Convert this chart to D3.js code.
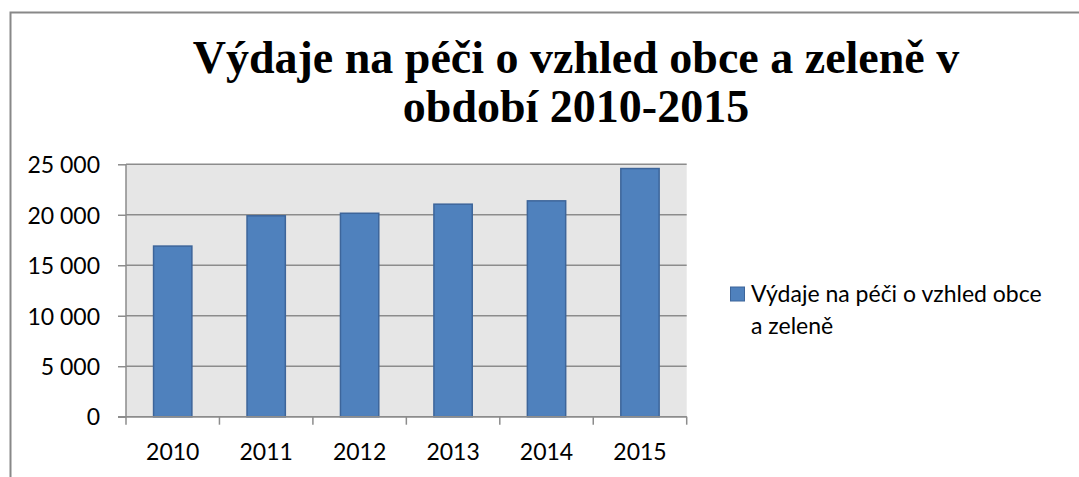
<!DOCTYPE html>
<html><head><meta charset="utf-8">
<script src="https://cdn.jsdelivr.net/npm/d3@7"></script>
<style>html,body{margin:0;padding:0;background:#fff;}</style>
</head><body>
<svg id="c" width="1079" height="477"></svg>
<script>
const categories = ["2010","2011","2012","2013","2014","2015"];
const values = [16900, 19900, 20150, 21050, 21380, 24580];
const yTicks = [0, 5000, 10000, 15000, 20000, 25000];
const seriesName = "Výdaje na péči o vzhled obce a zeleně";
const titleLines = ["Výdaje na péči o vzhled obce a zeleně v", "období 2010-2015"];
const legendLines = ["Výdaje na péči o vzhled obce", "a zeleně"];

const svg = d3.select("#c");
const W = 1079, H = 477;
const plot = {left: 126, right: 686.7, top: 164.3, bottom: 416.7};
const gridColor = "#8c8c8c";
const font = "Lato, 'Open Sans', sans-serif";
const fs = 23;

// outer border (cropped at right and bottom)
svg.append("rect").attr("x", 10.5).attr("y", 12.5).attr("width", W + 20).attr("height", H + 20)
  .attr("fill", "#fff").attr("stroke", "#888").attr("stroke-width", 2);

// title
const title = svg.append("text").attr("text-anchor", "middle")
  .attr("font-family", "'Liberation Serif', 'Times New Roman', serif")
  .attr("font-weight", "bold").attr("font-size", 46).attr("fill", "#000");
titleLines.forEach((t, i) => title.append("tspan").attr("x", 576).attr("y", 73 + i * 49).text(t));

const x = d3.scaleBand().domain(categories).range([plot.left, plot.right]).padding(0);
const y = d3.scaleLinear().domain([0, 25000]).range([plot.bottom, plot.top]);

// plot background
svg.append("rect").attr("x", plot.left).attr("y", plot.top)
  .attr("width", plot.right - plot.left).attr("height", plot.bottom - plot.top)
  .attr("fill", "#e6e6e6");

// gridlines
svg.append("g").selectAll("line").data(yTicks).join("line")
  .attr("x1", plot.left).attr("x2", plot.right)
  .attr("y1", d => y(d)).attr("y2", d => y(d))
  .attr("stroke", gridColor).attr("stroke-width", 1.5);

// bars
const bw = x.bandwidth() * 0.41;
svg.append("g").selectAll("rect").data(values).join("rect")
  .attr("x", (d, i) => x(categories[i]) + (x.bandwidth() - bw) / 2)
  .attr("y", d => y(d))
  .attr("width", bw)
  .attr("height", d => y(0) - y(d))
  .attr("fill", "#4f81bd").attr("stroke", "#3d659a").attr("stroke-width", 1.5);

// y axis
const yAxis = d3.axisLeft(y).tickValues(yTicks).tickSize(8).tickPadding(18)
  .tickFormat(d => d3.format(",")(d).replace(/,/g, " "));
const gy = svg.append("g").attr("transform", `translate(${plot.left},0)`).call(yAxis);
gy.select(".domain").attr("stroke", gridColor).attr("stroke-width", 1.5).attr("d", `M-8,${plot.bottom}H0V${plot.top}`);
gy.selectAll(".tick line").attr("stroke", gridColor).attr("stroke-width", 1.5);
gy.selectAll(".tick text").attr("font-family", font).attr("font-size", fs).attr("fill", "#000")
  .attr("dy", "0.36em");

// x axis with boundary ticks
const xAxis = d3.axisBottom(x).tickSize(0).tickPadding(27);
const gx = svg.append("g").attr("transform", `translate(0,${plot.bottom})`).call(xAxis);
gx.select(".domain").attr("stroke", gridColor).attr("stroke-width", 1.5).attr("d", `M${plot.left},0H${plot.right}`);
gx.selectAll(".tick text").attr("font-family", font).attr("font-size", fs).attr("fill", "#000");
const bounds = categories.map(c => x(c)).concat([plot.right]);
gx.append("g").selectAll("line").data(bounds).join("line")
  .attr("x1", d => d).attr("x2", d => d).attr("y1", 0).attr("y2", 8)
  .attr("stroke", gridColor).attr("stroke-width", 1.5);

// legend
const lg = svg.append("g");
lg.append("rect").attr("x", 730.5).attr("y", 287).attr("width", 14).attr("height", 14)
  .attr("fill", "#4f81bd").attr("stroke", "#3d659a").attr("stroke-width", 1);
const lt = lg.append("text").attr("font-family", font).attr("font-size", fs).attr("fill", "#000");
legendLines.forEach((t, i) => lt.append("tspan").attr("x", 751).attr("y", 302 + i * 32).text(t));
</script>
</body></html>
